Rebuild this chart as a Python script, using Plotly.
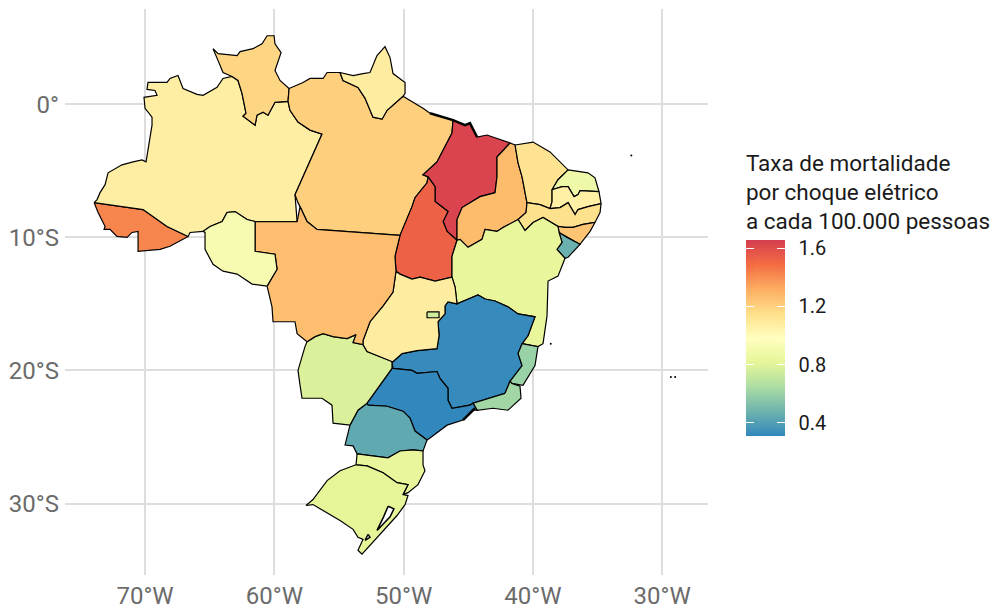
import plotly.graph_objects as go
from plotly.colors import sample_colorscale

# outlines as (lon, lat)
AC = [(-73.94,-7.39),(-70.15,-7.91),(-68.30,-9.18),(-66.67,-9.93),(-68.07,-10.67),(-68.84,-10.90),(-70.54,-11.05),(-70.54,-9.55),(-71.01,-9.63),(-71.39,-10.0),(-72.17,-9.93),(-72.71,-9.40),(-73.17,-9.40),(-73.09,-9.18),(-73.63,-8.13)]
AM = [(-73.94,-7.39),(-73.71,-7.16),(-73.48,-6.64),(-73.09,-6.04),(-72.86,-5.15),(-71.78,-4.55),(-70.93,-4.33),(-70.23,-4.18),(-69.92,-4.33),(-69.46,-1.57),(-69.46,-0.97),(-70.0,-0.30),(-70.08,0.52),(-69.07,0.67),(-69.23,1.04),(-69.85,1.12),(-69.77,1.64),(-68.30,1.64),(-68.07,1.94),(-67.45,2.16),(-67.06,1.19),(-65.98,0.75),(-65.51,0.67),(-64.43,1.27),(-63.97,1.94),(-63.27,2.09),(-62.81,1.79),(-62.50,0.82),(-62.19,-0.67),(-62.42,-0.90),(-61.49,-1.57),(-61.34,-0.82),(-60.87,-0.60),(-60.49,-0.82),(-59.95,0.15),(-58.94,0.22),(-58.79,-0.45),(-58.17,-1.34),(-57.24,-1.94),(-56.31,-2.24),(-58.40,-6.79),(-58.24,-8.81),(-61.49,-8.81),(-62.11,-8.66),(-63.04,-8.06),(-63.66,-8.13),(-64.04,-8.81),(-64.97,-9.18),(-65.51,-9.55),(-66.52,-9.63),(-66.67,-9.93),(-68.30,-9.18),(-70.15,-7.91)]
RR = [(-63.27,2.09),(-63.97,2.39),(-64.35,3.28),(-64.74,4.18),(-64.35,3.81),(-63.58,3.73),(-62.88,3.66),(-62.65,3.96),(-61.65,4.18),(-60.95,4.55),(-60.56,5.15),(-60.02,5.15),(-59.95,4.55),(-59.48,3.88),(-59.95,2.54),(-59.56,1.79),(-58.86,1.19),(-58.94,0.22),(-59.95,0.15),(-60.49,-0.82),(-60.87,-0.60),(-61.34,-0.82),(-61.49,-1.57),(-62.42,-0.90),(-62.19,-0.67),(-62.50,0.82),(-62.81,1.79)]
PA = [(-58.86,1.19),(-57.78,1.64),(-57.24,1.94),(-56.23,1.94),(-55.92,2.39),(-54.92,2.39),(-54.69,1.79),(-53.53,1.27),(-52.98,0.45),(-52.37,-0.97),(-51.67,-1.12),(-51.28,-0.45),(-50.05,0.60),(-49.35,0.22),(-48.50,-0.30),(-47.96,-0.67),(-46.18,-1.19),(-46.26,-2.16),(-47.42,-4.33),(-48.50,-5.30),(-48.11,-5.45),(-48.19,-5.90),(-49.12,-7.02),(-49.35,-7.69),(-50.28,-9.85),(-56.70,-9.40),(-57.47,-8.81),(-58.01,-7.69),(-58.17,-7.39),(-58.40,-6.79),(-56.31,-2.24),(-57.24,-1.94),(-58.17,-1.34),(-58.79,-0.45),(-58.94,0.22)]
AP = [(-54.92,2.39),(-53.91,2.16),(-53.14,2.31),(-52.60,2.39),(-52.06,3.66),(-51.44,4.33),(-51.05,3.51),(-50.82,2.31),(-49.89,1.64),(-49.89,0.82),(-50.05,0.60),(-51.28,-0.45),(-51.67,-1.12),(-52.37,-0.97),(-52.98,0.45),(-53.53,1.27),(-54.69,1.79)]
MA = [(-46.18,-1.19),(-45.25,-1.57),(-44.87,-1.42),(-44.32,-2.46),(-43.55,-2.31),(-41.77,-2.91),(-42.78,-3.96),(-42.78,-5.45),(-42.93,-6.64),(-44.09,-6.94),(-45.48,-7.76),(-45.87,-8.66),(-45.87,-10.22),(-46.64,-9.55),(-46.95,-8.81),(-46.57,-8.06),(-47.57,-7.31),(-47.57,-6.19),(-48.11,-5.45),(-48.50,-5.30),(-47.42,-4.33),(-46.26,-2.16)]
TO = [(-48.11,-5.45),(-48.19,-5.90),(-49.12,-7.02),(-49.35,-7.69),(-50.28,-9.85),(-50.67,-11.42),(-50.59,-12.54),(-50.28,-12.76),(-49.35,-13.13),(-48.73,-12.99),(-47.57,-13.28),(-46.26,-12.99),(-46.26,-11.42),(-45.87,-10.22),(-46.64,-9.55),(-46.95,-8.81),(-46.57,-8.06),(-47.57,-7.31),(-47.57,-6.19)]
PI = [(-41.77,-2.91),(-41.38,-3.06),(-41.15,-4.40),(-40.84,-5.45),(-40.46,-7.39),(-40.53,-8.13),(-41.15,-8.66),(-42.31,-9.25),(-42.78,-9.55),(-43.70,-9.40),(-43.94,-10.15),(-45.02,-10.75),(-45.64,-10.15),(-45.87,-10.22),(-45.87,-8.66),(-45.48,-7.76),(-44.09,-6.94),(-42.93,-6.64),(-42.78,-5.45),(-42.78,-3.96)]
CE = [(-41.38,-3.06),(-39.99,-2.84),(-38.68,-3.58),(-37.28,-4.93),(-38.06,-5.67),(-38.52,-6.42),(-38.52,-7.31),(-38.68,-7.84),(-39.45,-7.54),(-40.46,-7.39),(-40.84,-5.45),(-41.15,-4.40)]
RN = [(-37.28,-4.93),(-35.74,-5.15),(-35.20,-5.52),(-34.89,-6.57),(-36.36,-6.49),(-36.51,-6.79),(-36.82,-6.94),(-37.28,-6.19),(-37.75,-6.19),(-38.52,-6.42),(-38.06,-5.67)]
PB = [(-34.89,-6.57),(-34.73,-7.46),(-35.74,-7.69),(-36.51,-7.91),(-36.74,-8.28),(-36.97,-7.91),(-37.28,-7.39),(-37.90,-7.76),(-38.68,-7.84),(-38.52,-7.31),(-38.52,-6.42),(-37.75,-6.19),(-37.28,-6.19),(-36.82,-6.94),(-36.51,-6.79),(-36.36,-6.49)]
PE = [(-34.73,-7.46),(-34.81,-8.13),(-35.20,-8.88),(-36.12,-9.03),(-36.90,-9.25),(-37.52,-9.25),(-38.06,-9.18),(-38.68,-8.81),(-39.22,-8.51),(-39.99,-8.88),(-40.61,-9.48),(-41.15,-8.66),(-40.53,-8.13),(-40.46,-7.39),(-39.45,-7.54),(-38.68,-7.84),(-37.90,-7.76),(-37.28,-7.39),(-36.97,-7.91),(-36.74,-8.28),(-36.51,-7.91),(-35.74,-7.69)]
AL = [(-35.20,-8.88),(-35.58,-9.55),(-36.36,-10.52),(-37.36,-10.0),(-37.98,-9.63),(-38.06,-9.18),(-37.52,-9.25),(-36.90,-9.25),(-36.12,-9.03)]
SE = [(-37.98,-9.63),(-37.36,-10.0),(-36.36,-10.52),(-37.28,-11.49),(-37.52,-11.57),(-38.14,-10.90),(-37.75,-10.37)]
BA = [(-45.87,-10.22),(-45.64,-10.15),(-45.02,-10.75),(-43.94,-10.15),(-43.70,-9.40),(-42.78,-9.55),(-42.31,-9.25),(-41.15,-8.66),(-40.61,-9.48),(-39.99,-8.88),(-39.22,-8.51),(-38.68,-8.81),(-38.06,-9.18),(-37.98,-9.63),(-37.75,-10.37),(-38.14,-10.90),(-37.52,-11.57),(-38.06,-12.91),(-38.83,-13.28),(-38.91,-15.90),(-39.22,-17.99),(-39.61,-18.21),(-40.84,-17.99),(-40.38,-17.39),(-39.84,-15.97),(-41.15,-15.75),(-41.93,-15.22),(-42.93,-14.78),(-43.70,-14.63),(-44.25,-14.33),(-45.87,-15.0),(-46.02,-13.73),(-46.26,-12.99),(-46.26,-11.42)]
MG = [(-46.80,-15.15),(-46.57,-14.85),(-45.87,-15.0),(-44.25,-14.33),(-43.70,-14.63),(-42.93,-14.78),(-41.93,-15.22),(-41.15,-15.75),(-39.84,-15.97),(-40.38,-17.39),(-40.84,-17.99),(-41.15,-18.73),(-40.84,-19.63),(-41.77,-20.82),(-42.16,-21.72),(-44.63,-22.46),(-44.87,-22.61),(-46.26,-22.84),(-46.57,-22.24),(-46.57,-21.34),(-47.19,-20.60),(-47.42,-20.08),(-48.96,-20.22),(-49.35,-20.0),(-50.82,-19.85),(-50.90,-19.40),(-50.12,-18.73),(-48.96,-18.51),(-47.42,-18.36),(-47.26,-17.39),(-47.34,-16.34),(-46.80,-15.75)]
ES = [(-40.84,-17.99),(-39.61,-18.21),(-39.84,-19.63),(-40.77,-21.12),(-41.62,-20.97),(-41.77,-20.82),(-40.84,-19.63),(-41.15,-18.73)]
RJ = [(-42.16,-21.72),(-41.77,-20.82),(-41.62,-20.97),(-41.0,-21.19),(-40.92,-22.09),(-41.93,-22.99),(-43.09,-22.84),(-44.32,-22.99),(-44.63,-22.46)]
SP = [(-50.82,-19.85),(-49.35,-20.0),(-48.96,-20.22),(-47.42,-20.08),(-47.19,-20.60),(-46.57,-21.34),(-46.57,-22.24),(-46.26,-22.84),(-44.87,-22.61),(-44.63,-22.46),(-44.32,-22.99),(-44.63,-22.99),(-45.41,-23.73),(-46.64,-24.11),(-47.96,-25.08),(-48.19,-25.23),(-49.12,-24.55),(-49.51,-23.58),(-50.05,-23.06),(-51.28,-22.69),(-52.75,-22.61),(-52.83,-22.46),(-51.83,-21.12),(-50.90,-19.85)]
PR = [(-52.75,-22.61),(-51.28,-22.69),(-50.05,-23.06),(-49.51,-23.58),(-49.12,-24.55),(-48.19,-25.23),(-48.50,-26.05),(-49.27,-25.97),(-50.28,-26.05),(-51.21,-26.57),(-53.60,-26.27),(-53.91,-25.67),(-54.53,-25.60),(-54.15,-24.11),(-53.53,-22.99),(-52.83,-22.46)]
SC = [(-53.60,-26.27),(-51.21,-26.57),(-50.28,-26.05),(-49.27,-25.97),(-48.50,-26.05),(-48.50,-27.09),(-48.35,-27.54),(-48.89,-28.58),(-49.66,-29.18),(-50.05,-29.33),(-49.66,-28.58),(-50.51,-28.43),(-51.59,-27.69),(-52.83,-27.17),(-53.68,-27.09)]
RS = [(-53.68,-27.09),(-52.83,-27.17),(-51.59,-27.69),(-50.51,-28.43),(-49.66,-28.58),(-50.05,-29.33),(-49.66,-29.40),(-49.89,-30.08),(-50.51,-30.90),(-52.06,-32.54),(-53.22,-33.81),(-53.53,-33.51),(-53.14,-32.69),(-53.53,-32.54),(-53.91,-31.94),(-54.92,-31.27),(-56.23,-30.52),(-57.01,-30.08),(-57.55,-30.15),(-57.01,-29.70),(-55.92,-28.28),(-54.92,-27.54)]
MS = [(-57.47,-17.84),(-56.85,-17.46),(-56.23,-17.24),(-55.46,-17.46),(-54.38,-17.61),(-53.68,-17.31),(-53.91,-17.91),(-53.14,-18.06),(-52.83,-18.58),(-50.90,-19.33),(-50.90,-19.85),(-51.83,-21.12),(-52.83,-22.46),(-53.53,-22.99),(-54.15,-24.11),(-55.46,-23.96),(-55.54,-22.61),(-56.31,-22.09),(-57.86,-22.09),(-58.01,-21.12),(-58.17,-20.0),(-57.63,-18.21)]
GO_ = [(-50.59,-12.54),(-50.28,-12.76),(-49.35,-13.13),(-48.73,-12.99),(-47.57,-13.28),(-46.26,-12.99),(-46.02,-13.73),(-45.87,-15.0),(-46.57,-14.85),(-46.80,-15.15),(-46.80,-15.75),(-47.34,-16.34),(-47.26,-17.39),(-47.42,-18.36),(-48.96,-18.51),(-50.12,-18.73),(-50.90,-19.40),(-50.90,-19.33),(-52.83,-18.58),(-53.14,-18.06),(-53.14,-17.76),(-52.60,-16.34),(-51.59,-15.15),(-50.82,-14.11)]
DF = [(-48.19,-15.60),(-47.26,-15.60),(-47.26,-16.04),(-48.19,-16.04)]
MT = [(-61.49,-8.81),(-58.24,-8.81),(-58.01,-7.69),(-57.47,-8.81),(-56.70,-9.40),(-50.28,-9.85),(-50.67,-11.42),(-50.59,-12.54),(-50.82,-14.11),(-51.59,-15.15),(-52.60,-16.34),(-53.14,-17.76),(-53.14,-18.06),(-53.91,-17.91),(-53.68,-17.31),(-54.38,-17.61),(-55.46,-17.46),(-56.23,-17.24),(-56.85,-17.46),(-57.47,-17.84),(-58.24,-17.24),(-58.40,-16.34),(-60.10,-16.34),(-60.18,-15.22),(-60.56,-13.66),(-59.79,-12.39),(-59.95,-11.27),(-61.49,-11.05)]
RO = [(-61.49,-8.81),(-62.11,-8.66),(-63.04,-8.06),(-63.66,-8.13),(-64.04,-8.81),(-64.97,-9.18),(-65.51,-9.55),(-65.36,-9.63),(-65.36,-10.90),(-64.74,-12.02),(-63.97,-12.54),(-62.88,-12.76),(-61.72,-13.51),(-60.56,-13.66),(-59.79,-12.39),(-59.95,-11.27),(-61.49,-11.05)]

STATE_SHAPES = [AC, AM, RR, PA, AP, MA, TO, PI, CE, RN, PB, PE, AL, SE, BA, MG, ES, RJ, SP, PR, SC, RS, MS, GO_, DF, MT, RO]
STATE_NAMES = ['AC','AM','RR','PA','AP','MA','TO','PI','CE','RN','PB','PE','AL','SE','BA','MG','ES','RJ','SP','PR','SC','RS','MS','GO','DF','MT','RO']
STATE_RATES = [1.42,1.07,1.18,1.20,1.08,1.63,1.52,1.27,1.13,0.88,1.06,1.14,1.24,0.47,0.83,0.32,0.60,0.62,0.31,0.44,0.83,0.81,0.78,1.08,0.75,1.26,0.92]

LAGOONS = [
    [(-51.20,-30.20),(-50.75,-30.40),(-51.05,-31.00),(-52.06,-32.02),(-51.55,-31.00)],
    [(-52.75,-32.31),(-52.60,-32.54),(-52.98,-32.76)],
]
THICK_COASTS = [
    [(-47.96,-0.67),(-46.18,-1.19),(-45.25,-1.57),(-44.87,-1.42),(-44.32,-2.46)],
    [(-44.48,-22.84),(-45.41,-23.73)],
]
ISLAND_LON = [-32.39,-38.62,-29.33,-29.0]
ISLAND_LAT = [-3.85,-18.0,-20.5,-20.5]

LON_TICKS = [-70,-60,-50,-40,-30]
LON_LABELS = ['70°W','60°W','50°W','40°W','30°W']
LAT_TICKS = [0,-10,-20,-30]
LAT_LABELS = ['0°','10°S','20°S','30°S']
LEGEND_TICKS = [0.4,0.8,1.2,1.6]
LEGEND_LABELS = ['0.4','0.8','1.2','1.6']

RATE_MIN = 0.31
RATE_MAX = 1.65
SPECTRAL = ['#3288BD','#6DB3AE','#ABDDA4','#E6F598','#FFFFBF','#FEE08B','#FDAE61','#F46D43','#D53E4F']

fig = go.Figure()

for name, shape, rate in zip(STATE_NAMES, STATE_SHAPES, STATE_RATES):
    lons = [p[0] for p in shape] + [shape[0][0]]
    lats = [p[1] for p in shape] + [shape[0][1]]
    colour = sample_colorscale(SPECTRAL, (rate - RATE_MIN) / (RATE_MAX - RATE_MIN))[0]
    fig.add_trace(go.Scatter(x=lons, y=lats, mode='lines', name=name, fill='toself',
                             fillcolor=colour, line=dict(color='black', width=1.2)))

for lagoon in LAGOONS:
    fig.add_trace(go.Scatter(x=[p[0] for p in lagoon] + [lagoon[0][0]],
                             y=[p[1] for p in lagoon] + [lagoon[0][1]],
                             mode='lines', fill='toself', fillcolor='white',
                             line=dict(color='black', width=1.5)))

for coast in THICK_COASTS:
    fig.add_trace(go.Scatter(x=[p[0] for p in coast], y=[p[1] for p in coast],
                             mode='lines', line=dict(color='black', width=2.5)))

fig.add_trace(go.Scatter(x=ISLAND_LON, y=ISLAND_LAT, mode='markers',
                         marker=dict(color='black', size=2)))


def colour_bar_trace(colorbar):
    # invisible trace, only there to carry a colour bar
    return go.Scatter(x=[None, None], y=[None, None], mode='markers',
                      marker=dict(color=[RATE_MIN, RATE_MAX], cmin=RATE_MIN, cmax=RATE_MAX,
                                  colorscale=SPECTRAL, showscale=True, colorbar=colorbar))


# main bar with title and labels; white outside ticks just push the labels away
fig.add_trace(colour_bar_trace(dict(
    title=dict(text='Taxa de mortalidade<br>por choque elétrico<br>a cada 100.000 pessoas',
               side='top', font=dict(family='Roboto', size=22.5, color='#1a1a1a')),
    tickvals=LEGEND_TICKS, ticktext=LEGEND_LABELS,
    ticks='outside', ticklen=10, tickcolor='white', tickwidth=1,
    tickfont=dict(family='Roboto', size=20, color='#1a1a1a'),
    outlinewidth=0, thickness=39, thicknessmode='pixels',
    len=285, lenmode='pixels', x=1.059, xanchor='left', xpad=0,
    y=0.2456, yanchor='bottom', ypad=0)))

# narrow bars over both edges, for the white ticks inside the bar
for bar_x in [1.059, 1.1073]:
    fig.add_trace(colour_bar_trace(dict(
        tickvals=LEGEND_TICKS, showticklabels=False,
        ticks='inside', ticklen=8, tickcolor='white', tickwidth=1,
        outlinewidth=0, thickness=8, thicknessmode='pixels',
        len=195, lenmode='pixels', x=bar_x, xanchor='left', xpad=0,
        y=0.2456, yanchor='bottom', ypad=0)))

grid = dict(showgrid=True, gridcolor='#dddddd', gridwidth=1.5, zeroline=False, showline=False, ticks='')
# the page body adds 8 px on the left and top, so the figure is 8 px smaller
fig.update_layout(
    width=990,
    height=603,
    margin=dict(l=57, r=290, t=1, b=32),
    paper_bgcolor='white',
    plot_bgcolor='white',
    showlegend=False,
    hovermode=False,
    xaxis=dict(range=[-76.19, -26.46], tickvals=LON_TICKS, ticktext=LON_LABELS, ticklabelstandoff=4,
               tickfont=dict(family='Roboto', size=24, color='#6b6b6b'), **grid),
    yaxis=dict(range=[-35.37, 7.16], tickvals=LAT_TICKS, ticktext=LAT_LABELS, ticklabelstandoff=5,
               tickfont=dict(family='Roboto', size=24, color='#6b6b6b'), **grid),
)

fig.write_html("out.html")
